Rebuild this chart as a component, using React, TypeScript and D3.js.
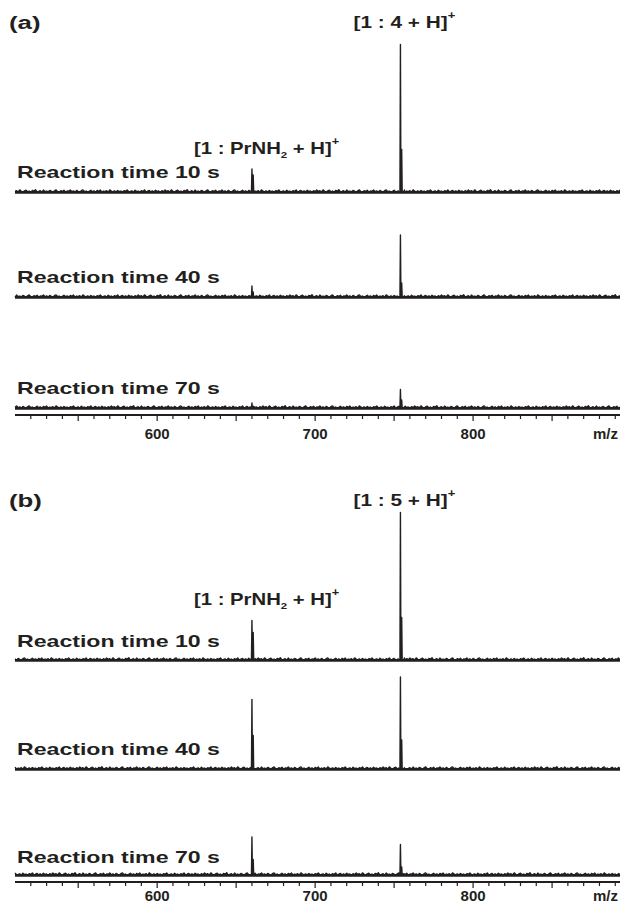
import React from "react";
import * as d3 from "d3";

const W = 620;
const H = 905;

// m/z window shown on both axes
const mzDomain = [510, 893];
const labelTicks = [600, 700, 800];
const timeLabels = ["Reaction time 10 s", "Reaction time 40 s", "Reaction time 70 s"];

// peaks: [m/z, relative intensity %]
const peaksA10 = [[660, 16], [660.8, 12], [752.5, 1.5], [754, 99], [754.8, 29], [756.5, 2]];
const peaksA40 = [[660, 8], [660.8, 4], [754, 42], [754.8, 10], [756.5, 1.5]];
const peaksA70 = [[660, 4], [754, 13], [754.8, 6]];
const peaksB10 = [[660, 27], [660.8, 19], [752.5, 1.5], [754, 99], [754.8, 29], [756.5, 2]];
const peaksB40 = [[660, 47], [660.8, 23], [754, 62], [754.8, 20], [756.5, 1.5]];
const peaksB70 = [[660, 26], [660.8, 11], [754, 21], [754.8, 6]];

// baseline noise (% of full scale), one value per m/z unit
const noise = [
  0.8, 1.2, 0.5, 1.6, 0.9, 0.4, 1.1, 1.4, 0.6, 1.0, 0.3, 1.3, 0.9, 1.7, 0.5, 0.8,
  1.2, 0.4, 1.5, 0.7, 1.0, 0.6, 1.3, 0.9, 0.4, 1.1, 1.6, 0.7, 0.5, 1.2, 0.8, 1.4,
  0.3, 1.0, 0.9, 1.5, 0.6, 1.1, 0.4, 1.3, 0.8, 0.5, 1.2, 1.6, 0.7, 1.0, 0.4, 0.9,
  1.4, 0.6, 1.1, 0.3, 1.3, 0.8, 1.5, 0.5, 1.0, 0.7, 1.2, 0.4, 1.6, 0.9, 0.6, 1.1,
  0.5, 1.3, 0.7, 1.0, 0.4, 1.2, 0.9, 1.5, 0.6, 0.8, 1.1, 0.3, 1.4, 0.7, 1.0, 0.5,
  1.2, 0.8, 1.6, 0.4, 0.9, 1.3, 0.6, 1.1, 0.5, 1.4, 0.8, 1.0, 0.3, 1.2, 0.7, 1.5,
];

const panels = [
  {
    tag: "(a)",
    tagY: 29,
    main: "4",
    mainY: 28,
    amineY: 154,
    bases: [193, 298, 409],
    textYs: [178, 283, 394],
    axisY: 415,
    tickTextY: 439,
    spectra: [peaksA10, peaksA40, peaksA70],
  },
  {
    tag: "(b)",
    tagY: 507,
    main: "5",
    mainY: 506,
    amineY: 605,
    bases: [661, 770, 876],
    textYs: [647, 755, 863],
    axisY: 882,
    tickTextY: 901,
    spectra: [peaksB10, peaksB40, peaksB70],
  },
];

const FONT = "'Liberation Sans', Arial, Helvetica, sans-serif";
const INK = "#231f20";
// the figure's lettering is wider than plain Arial
const STRETCH = 1.36;

const x = d3.scaleLinear().domain(mzDomain).range([15, 620]);

function spectrumPoints(peaks: number[][], shift: number) {
  const pts: [number, number][] = [];
  d3.range(mzDomain[0], mzDomain[1] + 0.1, 1).forEach((mz, i) => {
    if (peaks.some((p) => Math.abs(p[0] - mz) < 0.7)) return;
    pts.push([mz, noise[(i + shift) % noise.length] * 1.3]);
  });
  peaks.forEach(([mz, h]) => {
    pts.push([mz - 0.3, 0.6]);
    pts.push([mz, h]);
    pts.push([mz + 0.3, 0.6]);
  });
  return pts.sort((a, b) => a[0] - b[0]);
}

export default function App() {
  const ticks = d3.range(520, mzDomain[1], 10);
  return (
    <svg
      width={W}
      height={H}
      viewBox={`0 0 ${W} ${H}`}
      style={{ display: "block", position: "absolute", left: 0, top: 0, background: "#fff" }}
    >
      {panels.map((p, pi) => (
        <g key={p.tag} fill={INK} fontFamily={FONT} fontWeight="bold">
          <text transform={`translate(9,${p.tagY}) scale(${STRETCH},1)`} fontSize={19}>
            {p.tag}
          </text>
          <text transform={`translate(${x(754) + 4},${p.mainY}) scale(1.3,1)`} textAnchor="middle" fontSize={16}>
            {`[1 : ${p.main} + H]`}
            <tspan dy={-9} fontSize={10}>+</tspan>
          </text>
          <text transform={`translate(194,${p.amineY}) scale(1.27,1)`} fontSize={16}>
            [1 : PrNH
            <tspan dy={4} fontSize={9}>2</tspan>
            <tspan dy={-4}> + H]</tspan>
            <tspan dy={-9} fontSize={10}>+</tspan>
          </text>
          {p.spectra.map((peaks, si) => {
            const y = d3.scaleLinear().domain([0, 100]).range([p.bases[si], p.bases[si] - 150]);
            const line = d3.line<[number, number]>().x((d) => x(d[0])).y((d) => y(d[1]));
            return (
              <g key={si}>
                <text transform={`translate(17,${p.textYs[si]}) scale(${STRETCH},1)`} fontSize={17}>
                  {timeLabels[si]}
                </text>
                <line x1={x(mzDomain[0])} x2={x(mzDomain[1])} y1={y(0.4)} y2={y(0.4)} stroke={INK} strokeWidth={2.8} />
                <path
                  d={line(spectrumPoints(peaks, pi * 37 + si * 17)) || ""}
                  fill="none"
                  stroke={INK}
                  strokeWidth={1.4}
                  strokeLinejoin="round"
                />
              </g>
            );
          })}
          <line x1={x(mzDomain[0])} x2={x(mzDomain[1])} y1={p.axisY} y2={p.axisY} stroke={INK} strokeWidth={2.2} />
          {ticks.map((t) => (
            <line
              key={t}
              x1={x(t)}
              x2={x(t)}
              y1={p.axisY}
              y2={p.axisY + (t % 50 === 0 ? 6 : 4)}
              stroke={INK}
              strokeWidth={1.2}
            />
          ))}
          {labelTicks.map((t) => (
            <text key={t} x={x(t)} y={p.tickTextY} textAnchor="middle" fontSize={15}>
              {t}
            </text>
          ))}
          <text x={618} y={p.tickTextY} textAnchor="end" fontSize={15}>
            m/z
          </text>
        </g>
      ))}
    </svg>
  );
}
